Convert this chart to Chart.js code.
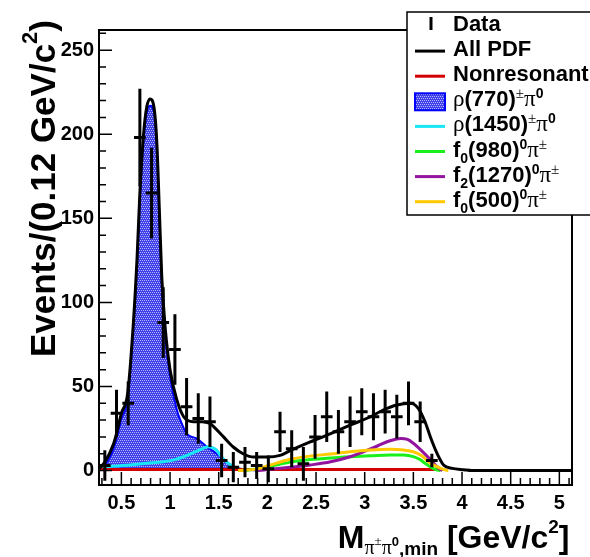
<!DOCTYPE html>
<html>
<head>
<meta charset="utf-8">
<script src="https://cdn.jsdelivr.net/npm/chart.js@4.4.1/dist/chart.umd.min.js"></script>
<style>
  body { margin: 0; background: #fff; }
  canvas { display: block; }
</style>
</head>
<body>
<canvas id="chart" width="590" height="557"></canvas>
<script>
// ---- Data points (0.12 GeV bins) ----
const binCenters = [0.33, 0.45, 0.57, 0.69, 0.81, 0.93, 1.05, 1.17, 1.29, 1.41, 1.53, 1.65, 1.77, 1.89, 2.01,
                    2.13, 2.25, 2.37, 2.49, 2.61, 2.73, 2.85, 2.97, 3.09, 3.21, 3.33, 3.45, 3.57, 3.69];
const dataValues = [3, 34, 40, 198, 165, 88, 72, 38, 31, 29, 6, 2, 5, 3, 1,
                    23, 13, 4, 20, 32, 23, 29, 35, 32, 35, 32, 40, 29, 6];
const dataErrors = [9, 14, 13, 29, 27, 21, 21, 17, 15, 15, 10, 9, 9, 8, 8,
                    12, 11, 10, 13, 15, 13, 15, 14, 14, 13, 13, 13, 12, 4];
const binHalfWidth = 0.06;

// ---- Fit components ----
const pdfX = [0.27, 0.33, 0.42, 0.45, 0.50, 0.565, 0.62, 0.66, 0.69, 0.725, 0.76, 0.795, 0.835, 0.865, 0.89, 0.915,
              0.95, 1.0, 1.07, 1.14, 1.24, 1.33, 1.41, 1.45, 1.55, 1.65, 1.75, 1.86, 2.0, 2.13, 2.24, 2.44, 2.65,
              2.85, 3.06, 3.19, 3.33, 3.47, 3.55, 3.62, 3.675, 3.745, 3.81, 3.9, 4.02, 4.1, 5.13];
const pdfY = [1, 5, 16, 22, 34, 46, 85, 125, 165, 198, 216, 221, 216, 194, 155, 115,
              85, 60, 42, 32, 29, 29, 28, 26, 20, 14, 10, 8, 8, 9, 12, 17, 22,
              27, 32, 36, 39, 40, 37, 29, 20, 10, 3.3, 1.3, 0.5, 0, 0];

const nonresX = [0.27, 3.8];
const nonresY = [0.6, 0.6];

const rho770X = [0.27, 0.33, 0.42, 0.45, 0.50, 0.565, 0.62, 0.66, 0.69, 0.725, 0.76, 0.795, 0.835, 0.865, 0.89, 0.915,
                 0.95, 1.0, 1.07, 1.12, 1.17, 1.275, 1.38, 1.48, 1.58, 1.69, 1.79, 1.9];
const rho770Y = [0, 3, 13, 19, 31, 43, 82, 122, 162, 195, 213, 217, 213, 191, 151, 111,
                 81, 56, 36, 28, 22, 19, 14, 10, 5, 1.5, 0.5, 0];

const rho1450X = [0.27, 0.35, 0.59, 0.76, 0.93, 1.03, 1.14, 1.24, 1.34, 1.39, 1.44, 1.48, 1.51, 1.58, 1.65, 1.72, 1.8];
const rho1450Y = [2, 2.3, 3.3, 4.3, 5.2, 6.2, 8.2, 10.6, 13.2, 14.2, 13.5, 12, 9.5, 5.2, 2.3, 0.7, 0];

const f0980X = [1.7, 1.85, 2.03, 2.235, 2.44, 2.65, 2.85, 3.06, 3.26, 3.4, 3.5, 3.57, 3.62, 3.68, 3.73, 3.78];
const f0980Y = [0, 0.6, 2.5, 5, 6.5, 7.5, 8.2, 8.8, 9.3, 9.3, 8.3, 6.5, 4.3, 2, 0.6, 0];

const f21270X = [1.9, 2.03, 2.235, 2.44, 2.65, 2.85, 2.99, 3.13, 3.26, 3.37, 3.44, 3.5, 3.57, 3.64, 3.71, 3.76, 3.8];
const f21270Y = [0, 0.7, 1.9, 3.3, 5.2, 8.2, 11.2, 14.6, 17.7, 19.1, 18.5, 16.2, 12.6, 8.6, 4.3, 1.3, 0];

const f0500X = [1.7, 1.9, 2.03, 2.235, 2.44, 2.65, 2.85, 3.06, 3.26, 3.4, 3.5, 3.59, 3.655, 3.74, 3.81, 3.86];
const f0500Y = [0, 1, 3.3, 6.7, 8.6, 9.8, 11.2, 12.2, 12.6, 12.2, 11.2, 8.6, 5.2, 2.3, 0.7, 0];

// ---- Axes ----
const xTicks = [0.5, 1, 1.5, 2, 2.5, 3, 3.5, 4, 4.5, 5];
const yTicks = [0, 50, 100, 150, 200, 250];

const colors = {
  pdf: "#000000", nonres: "#d40000", rho770: "#0000ff", rho1450: "#19e6f5",
  f0980: "#1aef1a", f21270: "#92149e", f0500: "#ffc800"
};

const SANS = '"Liberation Sans", Arial, sans-serif';
const SERIF = '"Liberation Serif", "Times New Roman", serif';

function pts(xs, ys) {
  return xs.map((x, i) => ({ x: x, y: ys[i] }));
}

// error bars as broken line segments
const vBars = [];
const hBars = [];
binCenters.forEach((x, i) => {
  vBars.push({ x: x, y: dataValues[i] - dataErrors[i] }, { x: x, y: dataValues[i] + dataErrors[i] }, { x: x, y: null });
  hBars.push({ x: x - binHalfWidth, y: dataValues[i] }, { x: x + binHalfWidth, y: dataValues[i] }, { x: x + binHalfWidth, y: null });
});

// ROOT-like dotted fill for rho(770)
function makeHatch(ctx) {
  const c = document.createElement("canvas");
  c.width = 4; c.height = 4;
  const g = c.getContext("2d");
  g.fillStyle = "#4040e8";
  g.fillRect(0, 0, 4, 4);
  g.fillStyle = "#b8b8ff";
  g.fillRect(0, 0, 1, 1); g.fillRect(2, 0, 1, 1);
  g.fillRect(1, 2, 1, 1); g.fillRect(3, 2, 1, 1);
  return ctx.createPattern(c, "repeat");
}

// ---- rich text with sub/superscripts ----
function B(t, size, dy) { return { t: t, font: "bold " + size + "px " + SANS, dy: dy || 0 }; }
function G(t, size, dy) { return { t: t, font: size + "px " + SERIF, dy: dy || 0 }; }

function richWidth(ctx, segs) {
  let w = 0;
  segs.forEach(s => { ctx.font = s.font; w += ctx.measureText(s.t).width; });
  return w;
}
function drawRich(ctx, segs, x, y) {
  ctx.textAlign = "left";
  ctx.textBaseline = "alphabetic";
  segs.forEach(s => {
    ctx.font = s.font;
    ctx.fillText(s.t, x, y + s.dy);
    x += ctx.measureText(s.t).width;
  });
}

const L = 22;
const legendItems = [
  { kind: "data", label: [B("Data", L)] },
  { kind: "line", color: colors.pdf, label: [B("All PDF", L)] },
  { kind: "line", color: colors.nonres, label: [B("Nonresonant", L)] },
  { kind: "box", label: [G("ρ", 23), B("(770)", L), G("±", 15, -8), G("π", 23), B("0", 14, -8)] },
  { kind: "line", color: colors.rho1450, label: [G("ρ", 23), B("(1450)", L), G("±", 15, -8), G("π", 23), B("0", 14, -8)] },
  { kind: "line", color: colors.f0980, label: [B("f", L), B("0", 14, 6), B("(980)", L), B("0", 14, -8), G("π", 23), G("±", 15, -8)] },
  { kind: "line", color: colors.f21270, label: [B("f", L), B("2", 14, 6), B("(1270)", L), B("0", 14, -8), G("π", 23), G("±", 15, -8)] },
  { kind: "line", color: colors.f0500, label: [B("f", L), B("0", 14, 6), B("(500)", L), B("0", 14, -8), G("π", 23), G("±", 15, -8)] }
];

const xTitle = [B("M", 32), G("π", 20, 6), G("±", 13, -3), G("π", 20, 6), B("0", 13, -2), B(",min", 19, 7),
                B(" [GeV/c", 32), B("2", 19, -15), B("]", 32)];
const yTitle = [B("Events/(0.12 GeV/c", 35), B("2", 22, -18), B(")", 35)];

let hatch = null;

const rootFrame = {
  id: "rootFrame",
  afterDraw(chart) {
    const { ctx, chartArea: a, scales: { x, y } } = chart;
    ctx.save();
    ctx.strokeStyle = "#000";
    ctx.fillStyle = "#000";

    // inner ticks
    ctx.lineWidth = 1.5;
    ctx.beginPath();
    for (let v = 0; v <= 260; v += 10) {
      const py = y.getPixelForValue(v);
      const len = v % 50 === 0 ? 13 : 7;
      ctx.moveTo(a.left, py);
      ctx.lineTo(a.left + len, py);
    }
    for (let k = 3; k <= 51; k++) {
      const px = x.getPixelForValue(k / 10);
      const len = k % 5 === 0 ? 13 : 7;
      ctx.moveTo(px, a.bottom);
      ctx.lineTo(px, a.bottom - len);
    }
    ctx.stroke();

    ctx.lineWidth = 2;
    ctx.strokeRect(a.left, a.top, a.right - a.left, a.bottom - a.top);

    // axis titles
    drawRich(ctx, xTitle, 569.5 - richWidth(ctx, xTitle), 548);
    ctx.save();
    ctx.translate(55, 20);
    ctx.rotate(-Math.PI / 2);
    drawRich(ctx, yTitle, -richWidth(ctx, yTitle), 0);
    ctx.restore();

    // legend
    ctx.fillStyle = "#fff";
    ctx.fillRect(407, 12, 190, 203);
    ctx.lineWidth = 1.5;
    ctx.strokeStyle = "#000";
    ctx.strokeRect(407, 12, 190, 203);
    legendItems.forEach((item, k) => {
      const base = 31 + 25.1 * k;
      if (item.kind === "data") {
        ctx.lineWidth = 3;
        ctx.strokeStyle = "#000";
        ctx.beginPath();
        ctx.moveTo(431, base - 14);
        ctx.lineTo(431, base - 1);
        ctx.stroke();
      } else if (item.kind === "line") {
        ctx.lineWidth = 3;
        ctx.strokeStyle = item.color;
        ctx.beginPath();
        ctx.moveTo(415, base - 5);
        ctx.lineTo(445, base - 5);
        ctx.stroke();
      } else {
        ctx.fillStyle = hatch;
        ctx.fillRect(415, base - 13, 30, 17);
        ctx.lineWidth = 2;
        ctx.strokeStyle = colors.rho770;
        ctx.strokeRect(415, base - 13, 30, 17);
      }
      ctx.fillStyle = "#000";
      drawRich(ctx, item.label, 453, base);
    });
    ctx.restore();
  }
};

const canvas = document.getElementById("chart");
hatch = makeHatch(canvas.getContext("2d"));

function curve(data, color, extra) {
  return Object.assign({
    data: data,
    borderColor: color,
    borderWidth: 3,
    pointRadius: 0,
    fill: false,
    cubicInterpolationMode: "monotone"
  }, extra || {});
}

const tickFont = { family: SANS, size: 20, weight: "bold" };

// datasets listed top-most first (Chart.js draws index 0 last)
new Chart(canvas, {
  type: "line",
  data: {
    datasets: [
      { data: vBars, borderColor: "#000", borderWidth: 3, pointRadius: 0, tension: 0, fill: false },
      { data: hBars, borderColor: "#000", borderWidth: 3, pointRadius: 0, tension: 0, fill: false },
      curve(pts(pdfX, pdfY), colors.pdf),
      curve(pts(f0500X, f0500Y), colors.f0500),
      curve(pts(f21270X, f21270Y), colors.f21270),
      curve(pts(f0980X, f0980Y), colors.f0980),
      curve(pts(nonresX, nonresY), colors.nonres, { cubicInterpolationMode: "default", tension: 0 }),
      curve(pts(rho1450X, rho1450Y), colors.rho1450),
      curve(pts(rho770X, rho770Y), colors.rho770, { borderWidth: 2, fill: "origin", backgroundColor: hatch })
    ]
  },
  options: {
    responsive: false,
    animation: false,
    events: [],
    layout: { padding: { left: 0, top: 30, right: 18, bottom: 0 } },
    plugins: { legend: { display: false }, tooltip: { enabled: false } },
    scales: {
      x: {
        type: "linear", min: 0.27, max: 5.13,
        grid: { display: false, drawTicks: false },
        border: { display: false },
        afterBuildTicks: s => { s.ticks = xTicks.map(v => ({ value: v })); },
        afterFit: s => { s.height = 72; },
        ticks: { padding: 6, color: "#000", font: tickFont, maxRotation: 0, autoSkip: false, callback: v => String(v) }
      },
      y: {
        type: "linear", min: -8.6, max: 262,
        grid: { display: false, drawTicks: false },
        border: { display: false },
        afterBuildTicks: s => { s.ticks = yTicks.map(v => ({ value: v })); },
        afterFit: s => { s.width = 99; },
        ticks: { padding: 5, color: "#000", font: tickFont, autoSkip: false, callback: v => String(v) }
      }
    }
  },
  plugins: [rootFrame]
});
</script>
</body>
</html>
